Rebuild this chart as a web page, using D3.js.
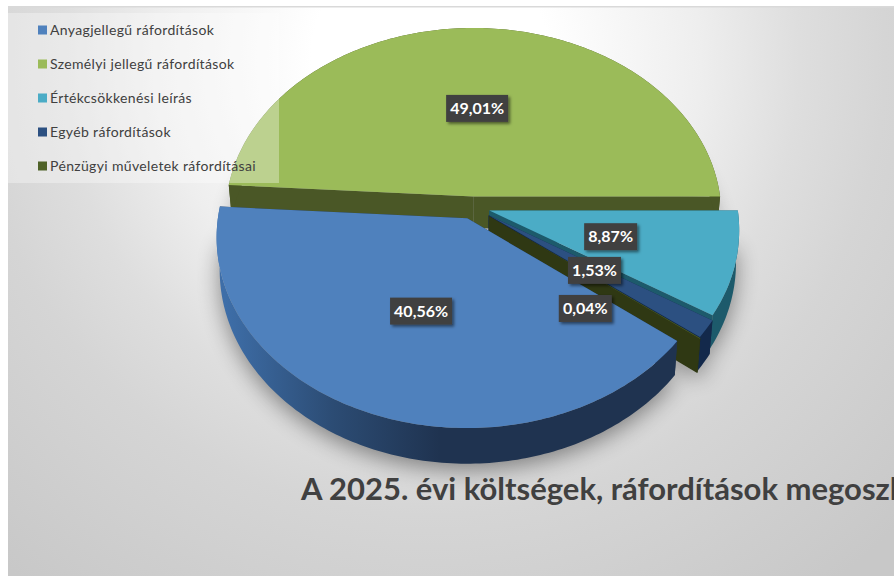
<!DOCTYPE html>
<html><head><meta charset="utf-8">
<script src="https://cdn.jsdelivr.net/npm/d3@7"></script>
<style>html,body{margin:0;padding:0;background:#fff}svg{display:block}text{font-family:Lato,"Open Sans",sans-serif}</style>
</head><body><svg id="c" width="894" height="576"></svg>
<script>
const categories=["Anyagjellegű ráfordítások","Személyi jellegű ráfordítások","Értékcsökkenési leírás","Egyéb ráfordítások","Pénzügyi műveletek ráfordításai"];
const values=[40.56,49.01,8.87,1.53,0.04];
const valueLabels=["40,56%","49,01%","8,87%","1,53%","0,04%"];
const topColors=["#4f81bd","#9bbb59","#4bacc6","#2c5081","#4f6228"];
const sideColors=["url(#blueWall)","#4a5726","#1d5a6b","#13294b","#2f3813"];
const explode=[16,14,17,19,20];
const labelNudge=[[0,0],[0,0],[0,0],[0,0],[-6,33]];
const title="A 2025. évi költségek, ráfordítások megoszlása";
const paintOrder=[1,2,3,4,0];

const svg=d3.select("#c");
const defs=svg.append("defs");
const bg=defs.append("radialGradient").attr("id","bg").attr("gradientUnits","userSpaceOnUse")
 .attr("cx",430).attr("cy",60).attr("r",660);
[[.18,"#ffffff"],[.41,"#eeeeee"],[.56,"#dedede"],[.69,"#d5d5d5"],[1,"#c8c8c8"]].forEach(s=>bg.append("stop").attr("offset",s[0]).attr("stop-color",s[1]));
const bw=defs.append("linearGradient").attr("id","blueWall").attr("gradientUnits","userSpaceOnUse")
 .attr("x1",225).attr("x2",440).attr("y1",0).attr("y2",0);
[[0,"#3e6ea8"],[.5,"#2c4c74"],[1,"#1f3350"]].forEach(s=>bw.append("stop").attr("offset",s[0]).attr("stop-color",s[1]));
defs.append("filter").attr("id","blur").attr("x","-20%").attr("y","-20%").attr("width","140%").attr("height","140%")
 .append("feGaussianBlur").attr("stdDeviation",11);
const ds=defs.append("filter").attr("id","ls").attr("x","-20%").attr("y","-20%").attr("width","150%").attr("height","150%");
ds.append("feDropShadow").attr("dx",2).attr("dy",2).attr("stdDeviation",1.6).attr("flood-color","#000").attr("flood-opacity",.5);

svg.append("rect").attr("x",8).attr("y",6).attr("width",886).attr("height",570).attr("fill","url(#bg)");
svg.append("rect").attr("x",8).attr("y",6).attr("width",886).attr("height",1.5).attr("fill","#d9d9d9");

// 3D perspective projection of the pie disc
const cx=473,cy=207,R=248,k=.0975,t=.7536,H=32;
function P(theta,r,s,h){
 const X=R*r*Math.sin(theta)+s.e*Math.sin(s.mid), Z=R*r*Math.cos(theta)+s.e*Math.cos(s.mid);
 const w=1+k*Z/R;
 return [cx+X/w*(h?.988:1), cy-t*Z/w+(h?H/w:0)];
}
const arcs=d3.pie().sort(null).startAngle(127.6*Math.PI/180).endAngle((127.6+360)*Math.PI/180)(values);
const slices=arcs.map((a,i)=>({i,a0:a.startAngle,a1:a.endAngle,mid:(a.startAngle+a.endAngle)/2,e:explode[i]}));
const line=d3.line();
const thetas=s=>{const n=Math.max(2,Math.ceil((s.a1-s.a0)/(Math.PI/180)));return d3.range(n+1).map(j=>s.a0+(s.a1-s.a0)*j/n)};
const topPath=s=>line([P(0,0,s,0),...thetas(s).map(a=>P(a,1,s,0))])+"Z";
const botPath=s=>line([P(0,0,s,1),...thetas(s).map(a=>P(a,1,s,1))])+"Z";
const wallPath=s=>{const T=thetas(s);return line([...T.map(a=>P(a,1,s,0)),...T.slice().reverse().map(a=>P(a,1,s,1))])+"Z"};
const facePath=(s,a)=>line([P(0,0,s,0),P(a,1,s,0),P(a,1,s,1),P(0,0,s,1)])+"Z";

svg.append("g").attr("filter","url(#blur)").attr("transform","translate(0,6)").attr("opacity",.42)
 .selectAll("path").data(slices).join("path").attr("d",botPath).attr("fill","#000");

const gp=svg.append("g").selectAll("g").data(paintOrder.map(i=>slices[i])).join("g");
gp.append("path").attr("d",s=>facePath(s,s.a0)).attr("fill",s=>s.i==0?"#1f3350":sideColors[s.i]);
gp.append("path").attr("d",s=>facePath(s,s.a1)).attr("fill",s=>s.i==0?"#1f3350":sideColors[s.i]);
gp.append("path").attr("d",wallPath).attr("fill",s=>sideColors[s.i]);
gp.append("path").attr("d",topPath).attr("fill",s=>topColors[s.i]);

// legend panel
svg.append("rect").attr("x",8).attr("y",13).attr("width",271).attr("height",170).attr("fill","#fff").attr("opacity",.33);
const ly=d3.scalePoint().domain(categories).range([30,166]);
const lg=svg.append("g").selectAll("g").data(categories).join("g").attr("transform",d=>`translate(0,${ly(d)})`);
lg.append("rect").attr("x",38).attr("y",-4.5).attr("width",9).attr("height",9).attr("fill",(d,i)=>topColors[i===3?3:i]);
lg.append("text").attr("x",50).attr("y",5).attr("font-size",14).attr("letter-spacing",.35).attr("fill","#404040").text(d=>d);

// data labels
const lb=svg.append("g").selectAll("g").data(slices).join("g")
 .attr("transform",s=>{const p=P(s.mid,.5,s,0),n=labelNudge[s.i];return `translate(${p[0]+n[0]},${p[1]+n[1]})`});
lb.append("rect").attr("x",(s)=>valueLabels[s.i].length>5?-31:-26.5).attr("y",-13.5)
 .attr("width",s=>valueLabels[s.i].length>5?62:53).attr("height",27).attr("fill","#404040").attr("filter","url(#ls)");
lb.append("text").attr("text-anchor","middle").attr("y",5.5).attr("font-size",16).attr("font-weight",700).attr("fill","#fff")
 .text(s=>valueLabels[s.i]);

svg.append("text").attr("x",301).attr("y",500).attr("font-size",31).attr("font-weight",700).attr("fill","#404040").text(title);
</script></body></html>
